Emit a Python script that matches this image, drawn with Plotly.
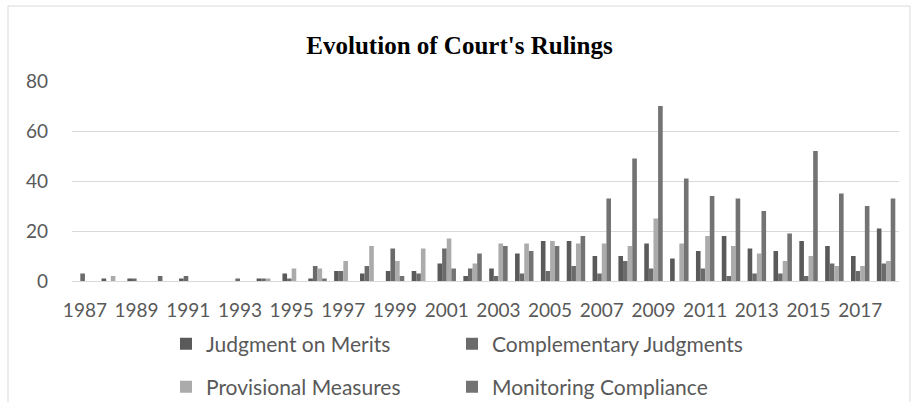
import plotly.graph_objects as go

years = [str(y) for y in range(1987, 2019)]
tick_labels = [str(y) for y in range(1987, 2019, 2)]

judgment_on_merits = [0, 1, 1, 0, 1, 0, 0, 1, 3, 1, 4, 3, 4, 4, 7, 2,
                      5, 11, 16, 16, 10, 10, 15, 9, 12, 18, 13, 12, 16, 14, 10, 21]
complementary_judgments = [3, 0, 1, 2, 2, 0, 1, 1, 1, 6, 4, 6, 13, 3, 13, 5,
                           2, 3, 4, 6, 3, 8, 5, 0, 5, 2, 3, 3, 2, 7, 4, 7]
provisional_measures = [0, 2, 0, 0, 0, 0, 0, 1, 5, 5, 8, 14, 8, 13, 17, 7,
                        15, 15, 16, 15, 15, 14, 25, 15, 18, 14, 11, 8, 10, 6, 6, 8]
monitoring_compliance = [0, 0, 0, 0, 0, 0, 0, 0, 0, 1, 0, 0, 2, 0, 5, 11,
                         14, 12, 14, 18, 33, 49, 70, 41, 34, 33, 28, 19, 52, 35, 30, 33]

series_names = ["Judgment on Merits", "Complementary Judgments",
                "Provisional Measures", "Monitoring Compliance"]
series_values = [judgment_on_merits, complementary_judgments,
                 provisional_measures, monitoring_compliance]
series_colors = ["#5a5a5a", "#6b6b6b", "#ababab", "#737373"]
legend_ids = ["legend", "legend2", "legend3", "legend4"]

W, H = 919, 402
L, R, T, B = 72, 20, 81, 121
ph = H - T - B

fig = go.Figure()
for name, vals, color, leg in zip(series_names, series_values, series_colors, legend_ids):
    fig.add_trace(go.Bar(x=years, y=vals, name=name, marker_color=color,
                         marker_line_width=0, legend=leg))

legend_common = dict(orientation="h", xref="container", yref="container",
                     xanchor="left", yanchor="middle",
                     font=dict(family="Lato", size=21, color="#595959"),
                     bgcolor="rgba(0,0,0,0)")
# legend slot positions (pixels in the 919x402 canvas)
legend_px = [(166, 344), (452, 344), (166, 387), (452, 387)]

legend_layout = {}
for leg, (lx, ly) in zip(legend_ids, legend_px):
    legend_layout[leg] = dict(x=lx / W, y=1 - ly / H, **legend_common)

fig.update_layout(
    width=W, height=H, autosize=False,
    margin=dict(l=L, r=R, t=T, b=B, pad=0, autoexpand=False),
    paper_bgcolor="white", plot_bgcolor="white",
    barmode="group", bargap=0.286, bargroupgap=0,
    title=dict(text="<b>Evolution of Court's Rulings</b>", xref="container", yref="container",
               x=0.5, xanchor="center", y=1 - 45 / H, yanchor="middle",
               font=dict(family="Liberation Serif", size=25, color="black")),
    xaxis=dict(type="category", tickvals=tick_labels, ticktext=tick_labels,
               showgrid=False, showline=True, linecolor="#d9d9d9", linewidth=1,
               ticks="", ticklabelstandoff=12,
               tickfont=dict(family="Lato", size=19, color="#595959")),
    yaxis=dict(range=[0, 80], dtick=20, showgrid=True, gridcolor="#d9d9d9", gridwidth=1,
               zeroline=True, zerolinecolor="#d9d9d9", zerolinewidth=1,
               showline=False, ticks="", ticklabelstandoff=23,
               tickfont=dict(family="Lato", size=19, color="#595959")),
    showlegend=True,
    **legend_layout,
)

# chart border
fig.add_shape(type="rect", xref="paper", yref="paper",
              x0=(8 - L) / (W - L - R), x1=(910 - L) / (W - L - R),
              y0=(H - B - 420) / ph, y1=(H - B - 6) / ph,
              line=dict(color="#d9d9d9", width=1), fillcolor="rgba(0,0,0,0)", layer="below")

fig.write_html("out.html", config={"displayModeBar": False},
               post_script="document.body.style.margin='0';document.body.style.overflow='hidden';")
